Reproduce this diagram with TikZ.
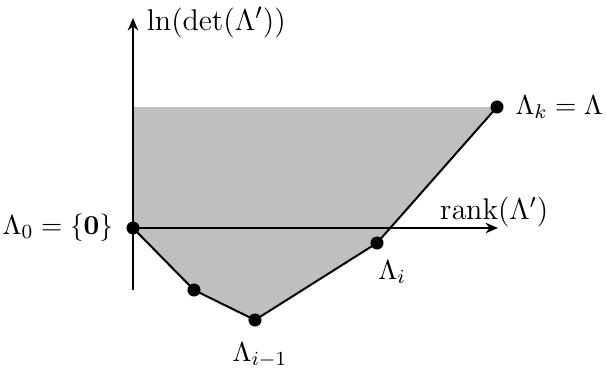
\documentclass[tikz,border=0pt]{standalone}
\usepackage{amsmath,amssymb}
\usepackage{tikz}
\usetikzlibrary{positioning,arrows.meta}
\tikzset{
 lat region/.style={fill=black!25,draw=none},
 lat edge/.style={thick},
 lat axis/.style={thick,-{Stealth[length=5pt,width=4.2pt,inset=1.6pt]}},
 lat vertex/.style={circle,fill=black,draw=black,minimum size=4.8pt,
                    inner sep=0pt,outer sep=0pt},
 lat label/.style={font=\fontsize{11}{13}\selectfont},
 lat axis label/.style={font=\fontsize{12}{14}\selectfont}
}
\begin{document}
\begin{tikzpicture}[x=0.4pt,y=0.4pt]
 \useasboundingbox (0,0) rectangle (606,369);
 \coordinate (v0) at (133,141);
 \coordinate (v1) at (194,79);
 \coordinate (v2) at (255,49);
 \coordinate (v3) at (377,126);
 \coordinate (v4) at (497,262);
 \coordinate (top) at (133,262);
 \coordinate (ybot) at (133,79);
 \coordinate (ytip) at (133,351);
 \coordinate (xtip) at (498,141);

 % Shaded region above the convex chain.
 \fill[lat region] (top) -- (v4) -- (v3) -- (v2) -- (v1) -- (v0) -- cycle;
 \draw[lat axis] (ybot) -- (ytip);
 \draw[lat axis] (v0) -- (xtip);
 \draw[lat edge] (v0) -- (v1) -- (v2) -- (v3) -- (v4);

 \foreach \v in {0,...,4} \node[lat vertex] (n\v) at (v\v) {};

 \node[lat axis label,right=2pt of ytip,yshift=-1.8pt,font=\fontsize{12.5}{15}\selectfont] (ylab) {$\ln(\det(\Lambda'))$};
 \node[lat axis label,above=-3pt of xtip,xshift=-1.5pt] (xlab) {$\operatorname{rank}(\Lambda')$};
 \node[lat label,right=1.5pt of n4] (l4) {$\Lambda_k = \Lambda$};
 \node[lat label,left=2pt of n0] (l0) {$\Lambda_0 = \{\mathbf{0}\}$};
 \node[lat label] (l3) at ([shift={(15,-29)}]v3) {$\Lambda_i$};
 \node[lat label] (l2) at ([shift={(5,-35)}]v2) {$\Lambda_{i-1}$};
\end{tikzpicture}
\end{document}
